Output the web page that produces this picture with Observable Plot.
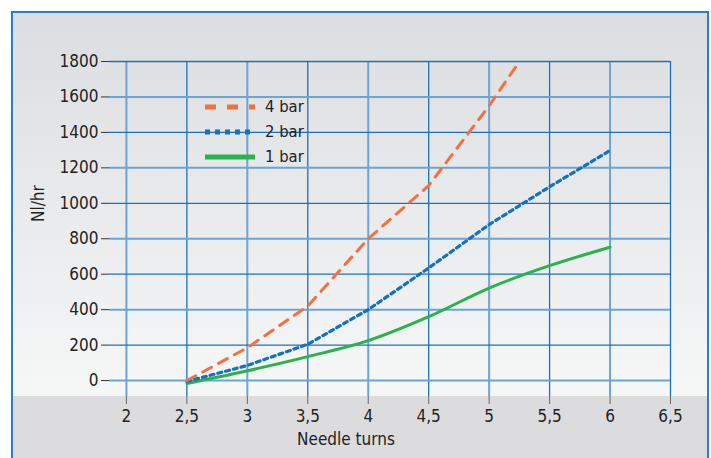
<!DOCTYPE html>
<html><head><meta charset="utf-8">
<script src="https://cdn.jsdelivr.net/npm/d3@7"></script>
<script src="https://cdn.jsdelivr.net/npm/@observablehq/plot@0.6"></script>
<style>
html,body{margin:0;padding:0;background:#fff;}
#wrap{position:relative;width:711px;height:458px;overflow:hidden;background:#fff;font-family:"DejaVu Sans",sans-serif;font-stretch:condensed;}
#panel{position:absolute;left:11px;top:11px;width:694px;height:460px;border:2px solid #2a80c6;
 background:linear-gradient(to bottom,#dcdde0 0px,#f6f7f7 383px,#dcdcdf 383px,#dcdcdf 100%);}
#chart{position:absolute;left:0;top:0;}
#chart svg text{font-stretch:condensed;}
#legend{position:absolute;left:205px;top:97px;font-size:16.5px;color:#222;}
#legend .row{position:absolute;left:0;height:20px;width:120px;}
#legend svg{position:absolute;left:0;top:0;}
#legend span{position:absolute;left:60px;top:0;line-height:20px;}
</style></head>
<body><div id="wrap"><div id="panel"></div><div id="chart"></div><div id="legend"></div></div>
<script>
const turns4 = [2.5, 3, 3.5, 4, 4.5, 5, 5.22];
const flow4  = [0, 185, 420, 800, 1100, 1550, 1770];
const turns2 = [2.5, 3, 3.5, 4, 4.5, 5, 5.5, 6];
const flow2  = [-5, 85, 205, 400, 635, 880, 1093, 1298];
const turns1 = [2.5, 3, 3.5, 4, 4.5, 5, 5.5, 6];
const flow1  = [-17, 55, 135, 225, 360, 522, 648, 752];
const xTicks = [2, 2.5, 3, 3.5, 4, 4.5, 5, 5.5, 6, 6.5];
const yTicks = [0, 200, 400, 600, 800, 1000, 1200, 1400, 1600, 1800];
const seriesNames = ["4 bar", "2 bar", "1 bar"];
const seriesColors = ["#f3703f", "#1272c0", "#2bb24c"];

const s4 = turns4.map((t,i)=>({t, v: flow4[i]}));
const s2 = turns2.map((t,i)=>({t, v: flow2[i]}));
const s1 = turns1.map((t,i)=>({t, v: flow1[i]}));
const comma = d => String(d).replace(".", ",");
const plain = d => String(d);

const plot = Plot.plot({
  width: 711, height: 458,
  marginLeft: 109, marginRight: 41, marginTop: 61, marginBottom: 62,
  style: {background: "transparent", fontFamily: '"DejaVu Sans",sans-serif', fontSize: "17px", color: "#222"},
  x: {domain: [1.86, 6.5], ticks: xTicks, tickFormat: comma, label: null},
  y: {domain: [-90, 1800], ticks: yTicks, tickFormat: plain, label: null},
  marks: [
    Plot.ruleX(xTicks, {stroke: (d,i)=> i%2 ? "#1a72bf" : "#6aa5d5", strokeWidth: (d,i)=> i%2 ? 1.3 : 2, y1: -90, y2: 1800}),
    Plot.ruleY(yTicks, {stroke: (d,i)=> i%2 ? "#1a72bf" : "#6aa5d5", strokeWidth: (d,i)=> i%2 ? 1.3 : 2, x1: 1.86, x2: 6.5}),
    Plot.axisY({ticks: yTicks, tickFormat: plain, tickSize: 8, tickPadding: 3, stroke: "#333", fill: "#222", fontSize: 17, label: null}),
    Plot.axisX({ticks: xTicks, tickFormat: comma, tickSize: 8, tickPadding: 5, stroke: "#666", fill: "#222", fontSize: 17, label: null}),
    Plot.line(s1, {x: "t", y: "v", stroke: seriesColors[2], strokeWidth: 3, curve: "monotone-x"}),
    Plot.line(s2, {x: "t", y: "v", stroke: seriesColors[1], strokeWidth: 3.2, strokeDasharray: "4 4"}),
    Plot.line(s4, {x: "t", y: "v", stroke: seriesColors[0], strokeWidth: 3, strokeDasharray: "10 8"}),
    Plot.text(["Needle turns"], {frameAnchor: "bottom", dx: -44, dy: 48, fill: "#222", fontSize: 17}),
    Plot.text(["Nl/hr"], {frameAnchor: "left", dx: -71, dy: -7, rotate: -90, fill: "#222", fontSize: 17})
  ]
});
document.getElementById("chart").appendChild(plot);

const lg = document.getElementById("legend");
const dashes = ["11 11", "5 5", null];
seriesNames.forEach((n,i)=>{
  const row = document.createElement("div");
  row.className = "row"; row.style.top = (i*25) + "px";
  const da = dashes[i] ? `stroke-dasharray="${dashes[i]}"` : "";
  row.innerHTML = `<svg width="52" height="20"><line x1="0" x2="50" y1="10" y2="10" stroke="${seriesColors[i]}" stroke-width="5" ${da}/></svg><span>${n}</span>`;
  lg.appendChild(row);
});
</script></body></html>
